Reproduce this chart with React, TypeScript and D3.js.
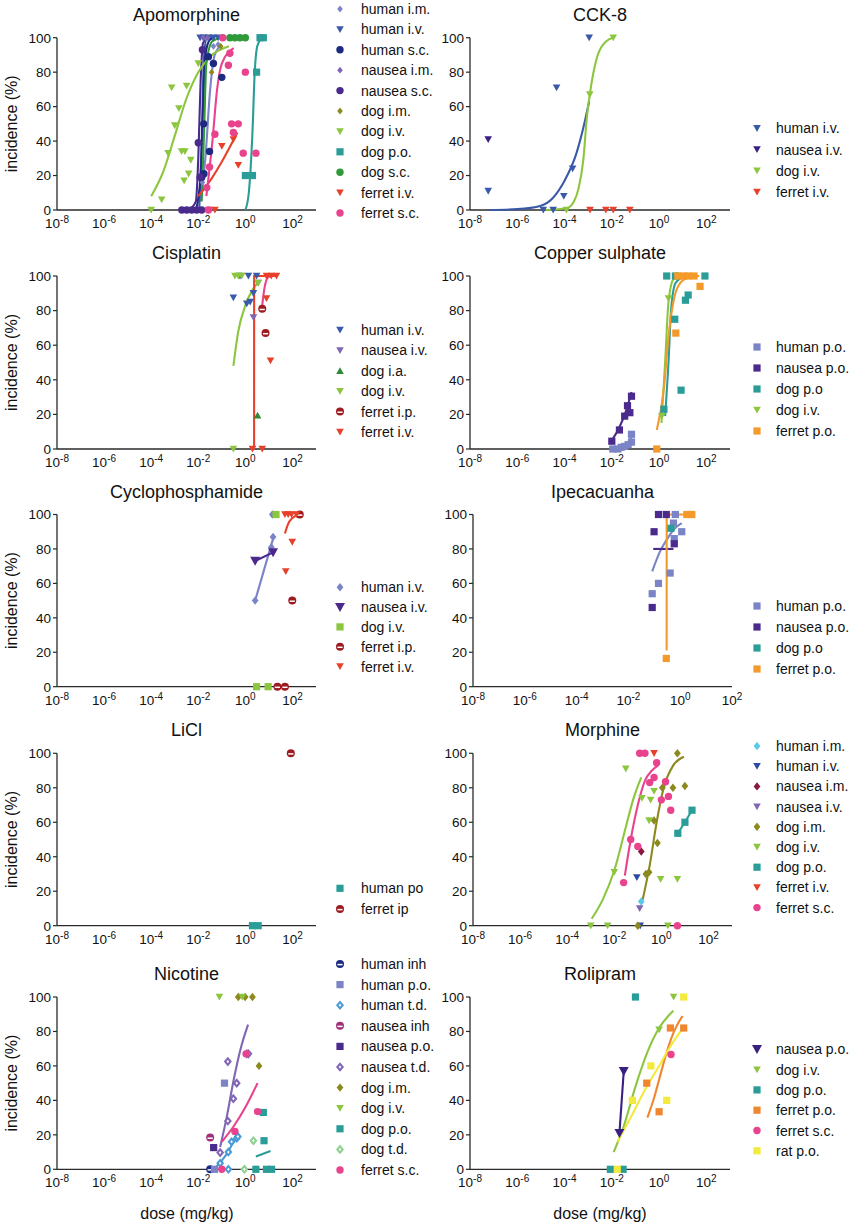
import React from 'react';
import * as d3 from 'd3';

type Pt = [number, number];

// ---------- tick labels ----------
const yTickValues = [0, 20, 40, 60, 80, 100];
const xTickExponents = [-8, -6, -4, -2, 0, 2];

// ---------- Apomorphine ----------
const apomorphineSeries = ['human i.m.', 'human i.v.', 'human s.c.', 'nausea i.m.', 'nausea s.c.', 'dog i.m.', 'dog i.v.', 'dog p.o.', 'dog s.c.', 'ferret i.v.', 'ferret s.c.'];
const apomorphinePoints: Record<string, Pt[]> = {
  'human i.m.': [[0.015, 16], [0.044, 95], [0.07, 96], [0.02, 100]],
  'human i.v.': [[0.012, 100], [0.017, 100], [0.027, 100], [0.044, 100], [0.07, 100]],
  'human s.c.': [[0.017, 50], [0.03, 34], [0.027, 89], [0.044, 85], [0.014, 19], [0.1, 77], [0.0175, 21]],
  'nausea i.m.': [[0.016, 100], [0.025, 100]],
  'nausea s.c.': [[0.002, 0], [0.0032, 0], [0.0052, 0], [0.0085, 0], [0.014, 0], [0.01, 39], [0.015, 93], [0.012, 19]],
  'dog i.m.': [[0.037, 80], [0.089, 95]],
  'dog i.v.': [[0.0001, 0], [0.00028, 6], [0.00052, 33], [0.001, 49], [0.00074, 71], [0.0015, 59], [0.00195, 34], [0.0027, 34], [0.0032, 72], [0.0048, 29], [0.0039, 21], [0.0025, 17], [0.01, 85]],
  'dog p.o.': [[1, 20], [2, 20], [3, 80], [4.2, 100], [5.8, 100]],
  'dog s.c.': [[0.22, 100], [0.36, 100], [0.59, 100], [1, 100]],
  'ferret i.v.': [[0.028, 0], [0.051, 0], [0.1, 37], [0.31, 41], [0.5, 26]],
  'ferret s.c.': [[0.027, 0], [0.023, 13], [0.03, 25], [0.051, 44], [0.11, 100], [0.19, 84], [0.22, 91], [0.26, 50], [0.5, 50], [0.31, 45], [0.81, 33], [1, 80], [2.8, 33]],
};
const apomorphineFits: Record<string, Pt[]> = {
  'human i.m.': [[0.0126, 5], [0.02, 30], [0.032, 70], [0.05, 90], [0.1, 96]],
  'human i.v.': [[0.011, 0], [0.014, 40], [0.017, 85], [0.022, 99], [0.04, 100]],
  'human s.c.': [[0.008, 0], [0.0126, 20], [0.016, 60], [0.02, 90], [0.032, 99], [0.05, 100]],
  'nausea s.c.': [[0.004, 0], [0.0079, 5], [0.01, 30], [0.0126, 75], [0.016, 97], [0.025, 100]],
  'dog i.v.': [[0.0001, 8], [0.00032, 22], [0.001, 43], [0.0032, 65], [0.01, 80], [0.032, 89], [0.2, 95]],
  'dog p.o.': [[1, 0], [1.4, 10], [2, 45], [2.5, 80], [3.2, 95], [5, 100]],
  'dog s.c.': [[0.014, 5], [0.018, 50], [0.022, 85], [0.04, 98], [0.1, 100]],
  'ferret i.v.': [[0.01, 8], [0.032, 17], [0.1, 28], [0.46, 45]],
  'ferret s.c.': [[0.022, 8], [0.04, 40], [0.063, 70], [0.1, 85], [0.32, 94]],
};

// ---------- CCK-8 ----------
const cckSeries = ['human i.v.', 'nausea i.v.', 'dog i.v.', 'ferret i.v.'];
const cckPoints: Record<string, Pt[]> = {
  'human i.v.': [[5.9e-8, 11], [1.26e-5, 0], [3.3e-5, 0], [4.6e-5, 71], [9.3e-5, 8], [2.2e-4, 24], [1.1e-3, 100]],
  'nausea i.v.': [[5.9e-8, 41]],
  'dog i.v.': [[1.2e-4, 0], [1.17e-3, 67], [1.15e-2, 100]],
  'ferret i.v.': [[1.2e-3, 0], [5.6e-3, 0], [1.15e-2, 0], [5.8e-2, 0]],
};
const cckFits: Record<string, Pt[]> = {
  'human i.v.': [[6.3e-8, 0], [1e-6, 0.5], [1e-5, 2.5], [3.2e-5, 7], [1e-4, 17], [3.2e-4, 33], [6.3e-4, 48], [1.1e-3, 63]],
  'dog i.v.': [[1.6e-5, 0], [1.2e-4, 1], [2.5e-4, 5], [4e-4, 13], [6.2e-4, 29], [9e-4, 55], [1.17e-3, 67], [2.2e-3, 87], [5.9e-3, 98], [1.15e-2, 100]],
};

// ---------- Cisplatin ----------
const cisplatinSeries = ['human i.v.', 'nausea i.v.', 'dog i.a.', 'dog i.v.', 'ferret i.p.', 'ferret i.v.'];
const cisplatinPoints: Record<string, Pt[]> = {
  'human i.v.': [[0.31, 87.5], [0.59, 100], [1.35, 100], [3, 100], [1.6, 85], [2.2, 90], [1.15, 84]],
  'nausea i.v.': [[2.2, 76], [3.5, 96]],
  'dog i.a.': [[3.3, 19.5]],
  'dog i.v.': [[0.31, 0], [0.36, 100], [0.5, 100], [0.7, 100], [3.5, 96]],
  'ferret i.p.': [[5.2, 81], [7.2, 67]],
  'ferret i.v.': [[2, 0], [5.2, 0], [7.9, 87], [11.7, 51], [7.9, 100], [12.6, 100], [21, 100]],
};
const cisplatinFits: Record<string, Pt[]> = {
  'dog i.v.': [[0.31, 48], [0.5, 68], [1, 83], [2, 92], [4.2, 97]],
  'ferret i.p.': [[5.2, 83], [6.3, 92], [8.9, 99], [12.6, 100]],
  'ferret i.v.': [[2.35, 0], [2.36, 100], [20, 100]],
};

// ---------- Copper sulphate ----------
const copperSeries = ['human p.o.', 'nausea p.o.', 'dog p.o', 'dog i.v.', 'ferret p.o.'];
const copperPoints: Record<string, Pt[]> = {
  'human p.o.': [[0.011, 0], [0.018, 0], [0.025, 1], [0.035, 1.5], [0.049, 2.5], [0.068, 4], [0.068, 8.5]],
  'nausea p.o.': [[0.01, 4.5], [0.021, 11], [0.035, 19], [0.046, 25], [0.058, 21], [0.068, 30.5]],
  'dog p.o': [[1.6, 23], [2.1, 100], [4.6, 75], [8.5, 34], [13, 86], [17, 89], [87, 100], [4.9, 100]],
  'dog i.v.': [[1.3, 19], [2.5, 87], [5.8, 100]],
  'ferret p.o.': [[0.8, 0], [5.1, 67], [11, 100], [17, 100], [30, 100], [54, 94], [6.2, 100]],
};
const copperFits: Record<string, Pt[]> = {
  'human p.o.': [[0.01, 0], [0.032, 1], [0.068, 7]],
  'nausea p.o.': [[0.01, 5], [0.02, 12], [0.04, 22], [0.068, 33]],
  'dog p.o': [[1.8, 19], [2.5, 50], [3.2, 80], [5, 96], [12.6, 100]],
  'dog i.v.': [[1.26, 15], [1.8, 50], [2.5, 85], [4, 98], [7.9, 100]],
  'ferret p.o.': [[0.8, 11], [1.6, 35], [2.5, 65], [4, 85], [7.9, 96], [20, 99.5], [50, 100]],
};

// ---------- Cyclophosphamide ----------
const cycloSeries = ['human i.v.', 'nausea i.v.', 'dog i.v.', 'ferret i.p.', 'ferret i.v.'];
const cycloPoints: Record<string, Pt[]> = {
  'human i.v.': [[2.6, 50], [15, 87], [12.6, 81], [14, 100]],
  'nausea i.v.': [[2.6, 73], [15, 78]],
  'dog i.v.': [[3, 0], [9.3, 0], [20, 100]],
  'ferret i.p.': [[23, 0], [48, 0], [98, 50], [204, 100]],
  'ferret i.v.': [[52, 67], [98, 84], [48, 100], [66, 100], [91, 100], [148, 100]],
};
const cycloFits: Record<string, Pt[]> = {
  'human i.v.': [[2.6, 50], [15.8, 87]],
  'nausea i.v.': [[2.6, 73], [15, 78]],
  'ferret i.v.': [[48, 89], [63, 94], [100, 98], [200, 100]],
};

// ---------- Ipecacuanha ----------
const ipecSeries = ['human p.o.', 'nausea p.o.', 'dog p.o', 'ferret p.o.'];
const ipecPoints: Record<string, Pt[]> = {
  'human p.o.': [[0.083, 54], [0.145, 60], [0.41, 66], [0.55, 95], [0.59, 86], [1.15, 90], [0.65, 100]],
  'nausea p.o.': [[0.083, 46], [0.098, 90], [0.145, 100], [0.29, 100], [0.59, 83]],
  'dog p.o': [[0.44, 92]],
  'ferret p.o.': [[0.29, 16.4], [1.8, 100], [2.8, 100]],
};
const ipecFits: Record<string, Pt[]> = {
  'human p.o.': [[0.083, 67], [0.16, 78], [0.32, 86], [0.63, 92], [1.15, 95]],
  'nausea p.o.': [[0.091, 80], [0.55, 80]],
  'ferret p.o.': [[0.3, 21], [0.301, 99], [0.32, 100], [2.8, 100]],
};

// ---------- LiCl ----------
const liclSeries = ['human po', 'ferret ip'];
const liclPoints: Record<string, Pt[]> = {
  'human po': [[2, 0], [3.5, 0]],
  'ferret ip': [[85, 100]],
};
const liclFits: Record<string, Pt[]> = {};

// ---------- Morphine ----------
const morphineSeries = ['human i.m.', 'human i.v.', 'nausea i.m.', 'nausea i.v.', 'dog i.m.', 'dog i.v.', 'dog p.o.', 'ferret i.v.', 'ferret s.c.'];
const morphinePoints: Record<string, Pt[]> = {
  'human i.m.': [[0.14, 14]],
  'human i.v.': [[0.091, 28], [0.126, 0]],
  'nausea i.m.': [[0.14, 43]],
  'nausea i.v.': [[0.12, 10]],
  'dog i.m.': [[0.1, 0], [0.22, 30], [0.3, 31], [0.49, 61], [0.68, 48], [1.1, 80], [3.1, 80], [4.8, 100], [10, 81]],
  'dog i.v.': [[0.001, 0], [0.0052, 0], [0.031, 91], [0.01, 31], [0.15, 74], [0.3, 61], [0.35, 73], [0.49, 78], [0.93, 27], [1.9, 0], [4.8, 27]],
  'dog p.o.': [[5, 53.6], [10, 60], [20, 67]],
  'ferret i.v.': [[0.49, 100]],
  'ferret s.c.': [[0.025, 25], [0.05, 50], [0.1, 46], [0.12, 100], [0.2, 100], [0.32, 83], [0.49, 86], [0.63, 94.5], [1, 73], [1.5, 83.5], [2, 75], [2.5, 67], [4.8, 0]],
};
const morphineFits: Record<string, Pt[]> = {
  'dog i.m.': [[0.16, 15], [0.32, 35], [0.63, 60], [1.26, 80], [3.2, 93], [9.1, 98]],
  'dog i.v.': [[0.0011, 4], [0.0032, 15], [0.01, 32], [0.032, 58], [0.063, 73], [0.14, 86]],
  'dog p.o.': [[5, 53.6], [10, 60], [20, 67]],
  'ferret s.c.': [[0.028, 29], [0.05, 50], [0.1, 70], [0.2, 84], [0.4, 90], [0.72, 93]],
};

// ---------- Nicotine ----------
const nicotineSeries = ['human inh', 'human p.o.', 'human t.d.', 'nausea inh', 'nausea p.o.', 'nausea t.d.', 'dog i.m.', 'dog i.v.', 'dog p.o.', 'dog t.d.', 'ferret s.c.'];
const nicotinePoints: Record<string, Pt[]> = {
  'human inh': [[0.032, 0]],
  'human p.o.': [[0.049, 0], [0.13, 50]],
  'human t.d.': [[0.085, 3.5], [0.19, 0], [0.19, 10], [0.26, 16], [0.43, 18], [0.48, 19]],
  'nausea inh': [[0.032, 18.4]],
  'nausea p.o.': [[0.045, 12.6]],
  'nausea t.d.': [[0.085, 9.7], [0.18, 28], [0.18, 62.5], [0.31, 41], [0.43, 50], [1.15, 67], [1.35, 67]],
  'dog i.m.': [[0.5, 100], [0.98, 100], [2, 100], [3.8, 60]],
  'dog i.v.': [[0.079, 100], [0.74, 100]],
  'dog p.o.': [[2.8, 0], [7.9, 0], [13, 0], [5.8, 33], [6.2, 16.6]],
  'dog t.d.': [[0.91, 0], [2.2, 16.6]],
  'ferret s.c.': [[0.1, 0], [0.36, 22], [1.07, 67], [3.3, 33.5]],
};
const nicotineFits: Record<string, Pt[]> = {
  'human t.d.': [[0.045, 0], [0.1, 5], [0.2, 11], [0.46, 21]],
  'nausea t.d.': [[0.085, 13], [0.16, 30], [0.32, 52], [0.63, 70], [1.3, 84]],
  'dog p.o.': [[2.8, 7.4], [11.7, 10.6]],
  'ferret s.c.': [[0.1, 16], [0.32, 25], [1, 36], [3.3, 50]],
};

// ---------- Rolipram ----------
const rolipramSeries = ['nausea p.o.', 'dog i.v.', 'dog p.o.', 'ferret p.o.', 'ferret s.c.', 'rat p.o.'];
const rolipramPoints: Record<string, Pt[]> = {
  'nausea p.o.': [[0.021, 21], [0.032, 57]],
  'dog i.v.': [[4.1, 100], [1, 81]],
  'dog p.o.': [[0.0087, 0], [0.03, 0], [0.1, 100]],
  'ferret p.o.': [[0.3, 50], [1, 33.4], [3, 82], [11, 82]],
  'ferret s.c.': [[3.2, 66.6]],
  'rat p.o.': [[0.017, 0], [0.074, 40], [0.45, 60], [2.1, 40], [11, 100]],
};
const rolipramFits: Record<string, Pt[]> = {
  'nausea p.o.': [[0.021, 21], [0.032, 57]],
  'dog i.v.': [[0.012, 10], [0.032, 25], [0.1, 48], [0.32, 68], [1, 82], [4, 92]],
  'ferret p.o.': [[0.32, 30], [0.63, 42], [1, 52], [2, 67], [4, 79], [9.8, 89]],
  'rat p.o.': [[0.017, 16], [0.063, 30], [0.25, 46], [1, 60], [3.2, 72], [11.5, 83]],
};

// ---------- styles (colour, marker) ----------
type Style = { color: string; shape: string; fit?: string; linear?: boolean };
const C = {
  slate: '#7b84c6', blue: '#3a5aa8', navy: '#1c2a82', violet: '#8066b4', purple: '#4a2a8c',
  olive: '#8c8a1e', lime: '#8cc63f', teal: '#2a9d98', green: '#2e9a3a', red: '#e8402a',
  pink: '#e8438c', maroon: '#9e1b20', dgreen: '#2f8a36', orange: '#f39a2b', sky: '#5bc8ea',
  wine: '#8a1a3c', lblue: '#4a9ad6', magenta: '#a0307a', mint: '#8ed18e', yellow: '#f2ea3c', orange2: '#f0862e',
};
const apomorphineStyle: Record<string, Style> = {
  'human i.m.': { color: C.slate, shape: 'diamondS' }, 'human i.v.': { color: C.blue, shape: 'tri' },
  'human s.c.': { color: C.navy, shape: 'circle' }, 'nausea i.m.': { color: C.violet, shape: 'diamondS' },
  'nausea s.c.': { color: C.purple, shape: 'circle' }, 'dog i.m.': { color: C.olive, shape: 'diamondS' },
  'dog i.v.': { color: C.lime, shape: 'tri' }, 'dog p.o.': { color: C.teal, shape: 'square' },
  'dog s.c.': { color: C.green, shape: 'circle' }, 'ferret i.v.': { color: C.red, shape: 'tri' },
  'ferret s.c.': { color: C.pink, shape: 'circle' },
};
const cckStyle: Record<string, Style> = {
  'human i.v.': { color: C.blue, shape: 'tri' }, 'nausea i.v.': { color: '#3a2080', shape: 'tri' },
  'dog i.v.': { color: C.lime, shape: 'tri' }, 'ferret i.v.': { color: C.red, shape: 'tri' },
};
const cisplatinStyle: Record<string, Style> = {
  'human i.v.': { color: C.blue, shape: 'tri' }, 'nausea i.v.': { color: C.violet, shape: 'tri' },
  'dog i.a.': { color: C.dgreen, shape: 'triUp' }, 'dog i.v.': { color: C.lime, shape: 'tri' },
  'ferret i.p.': { color: C.maroon, shape: 'half', fit: C.pink }, 'ferret i.v.': { color: C.red, shape: 'tri', linear: true },
};
const copperStyle: Record<string, Style> = {
  'human p.o.': { color: C.slate, shape: 'square' }, 'nausea p.o.': { color: C.purple, shape: 'square' },
  'dog p.o': { color: C.teal, shape: 'square' }, 'dog i.v.': { color: C.lime, shape: 'tri' },
  'ferret p.o.': { color: C.orange, shape: 'square' },
};
const cycloStyle: Record<string, Style> = {
  'human i.v.': { color: C.slate, shape: 'diamond', linear: true }, 'nausea i.v.': { color: C.purple, shape: 'triBig', linear: true },
  'dog i.v.': { color: C.lime, shape: 'square' }, 'ferret i.p.': { color: C.maroon, shape: 'half' },
  'ferret i.v.': { color: C.red, shape: 'tri' },
};
const ipecStyle: Record<string, Style> = {
  'human p.o.': { color: C.slate, shape: 'square' }, 'nausea p.o.': { color: C.purple, shape: 'square', linear: true },
  'dog p.o': { color: C.teal, shape: 'square' }, 'ferret p.o.': { color: C.orange, shape: 'square', linear: true },
};
const liclStyle: Record<string, Style> = {
  'human po': { color: C.teal, shape: 'square' }, 'ferret ip': { color: C.maroon, shape: 'half' },
};
const morphineStyle: Record<string, Style> = {
  'human i.m.': { color: C.sky, shape: 'diamond' }, 'human i.v.': { color: '#2b4aa8', shape: 'tri' },
  'nausea i.m.': { color: C.wine, shape: 'diamond' }, 'nausea i.v.': { color: C.violet, shape: 'tri' },
  'dog i.m.': { color: C.olive, shape: 'diamond' }, 'dog i.v.': { color: C.lime, shape: 'tri' },
  'dog p.o.': { color: C.teal, shape: 'square', linear: true }, 'ferret i.v.': { color: C.red, shape: 'tri' },
  'ferret s.c.': { color: C.pink, shape: 'circle' },
};
const nicotineStyle: Record<string, Style> = {
  'human inh': { color: C.navy, shape: 'half' }, 'human p.o.': { color: C.slate, shape: 'square' },
  'human t.d.': { color: C.lblue, shape: 'odiamond' }, 'nausea inh': { color: C.magenta, shape: 'half' },
  'nausea p.o.': { color: C.purple, shape: 'square' }, 'nausea t.d.': { color: C.violet, shape: 'odiamond' },
  'dog i.m.': { color: C.olive, shape: 'diamond' }, 'dog i.v.': { color: C.lime, shape: 'tri' },
  'dog p.o.': { color: C.teal, shape: 'square' }, 'dog t.d.': { color: C.mint, shape: 'odiamond' },
  'ferret s.c.': { color: C.pink, shape: 'circle' },
};
const rolipramStyle: Record<string, Style> = {
  'nausea p.o.': { color: '#3a2080', shape: 'triBig', linear: true }, 'dog i.v.': { color: C.lime, shape: 'tri' },
  'dog p.o.': { color: C.teal, shape: 'square' }, 'ferret p.o.': { color: C.orange2, shape: 'square' },
  'ferret s.c.': { color: C.pink, shape: 'circle' }, 'rat p.o.': { color: C.yellow, shape: 'square' },
};

// ---------- layout ----------
type Panel = {
  title: string; series: string[]; points: Record<string, Pt[]>; fits: Record<string, Pt[]>; style: Record<string, Style>;
  x0: number; x1: number; maxExp: number; yBottom: number; yTop: number; legendY: number; legendStep: number; left: boolean;
};
const L = { x0: 57, x1: 316 };
const R = { x0: 470, x1: 730 };
const panels: Panel[] = [
  { title: 'Apomorphine', series: apomorphineSeries, points: apomorphinePoints, fits: apomorphineFits, style: apomorphineStyle, ...L, maxExp: 3, yBottom: 210, yTop: 37.7, legendY: 9, legendStep: 20.4, left: true },
  { title: 'CCK-8', series: cckSeries, points: cckPoints, fits: cckFits, style: cckStyle, ...R, maxExp: 3, yBottom: 210, yTop: 37.7, legendY: 128.3, legendStep: 21.2, left: false },
  { title: 'Cisplatin', series: cisplatinSeries, points: cisplatinPoints, fits: cisplatinFits, style: cisplatinStyle, ...L, maxExp: 3, yBottom: 449, yTop: 276, legendY: 330, legendStep: 20.4, left: true },
  { title: 'Copper sulphate', series: copperSeries, points: copperPoints, fits: copperFits, style: copperStyle, ...R, maxExp: 3, yBottom: 449, yTop: 276, legendY: 347, legendStep: 21, left: false },
  { title: 'Cyclophosphamide', series: cycloSeries, points: cycloPoints, fits: cycloFits, style: cycloStyle, ...L, maxExp: 3, yBottom: 686.7, yTop: 514.5, legendY: 587.3, legendStep: 19.8, left: true },
  { title: 'Ipecacuanha', series: ipecSeries, points: ipecPoints, fits: ipecFits, style: ipecStyle, x0: 473, x1: 732, maxExp: 2, yBottom: 686.7, yTop: 514.5, legendY: 606, legendStep: 21, left: false },
  { title: 'LiCl', series: liclSeries, points: liclPoints, fits: liclFits, style: liclStyle, ...L, maxExp: 3, yBottom: 925.7, yTop: 753.3, legendY: 888.3, legendStep: 20.7, left: true },
  { title: 'Morphine', series: morphineSeries, points: morphinePoints, fits: morphineFits, style: morphineStyle, x0: 473, x1: 732, maxExp: 3, yBottom: 925.7, yTop: 753.3, legendY: 746, legendStep: 20.2, left: false },
  { title: 'Nicotine', series: nicotineSeries, points: nicotinePoints, fits: nicotineFits, style: nicotineStyle, ...L, maxExp: 3, yBottom: 1169.3, yTop: 997, legendY: 964, legendStep: 20.6, left: true },
  { title: 'Rolipram', series: rolipramSeries, points: rolipramPoints, fits: rolipramFits, style: rolipramStyle, ...R, maxExp: 3, yBottom: 1169.3, yTop: 997, legendY: 1049.3, legendStep: 20.3, left: false },
];

const FONT = '"Liberation Sans", Arial, Helvetica, sans-serif';

function Marker({ shape, x, y, color }: { shape: string; x: number; y: number; color: string }) {
  switch (shape) {
    case 'circle':
      return <circle cx={x} cy={y} r={3.7} fill={color} />;
    case 'square':
      return <rect x={x - 3.6} y={y - 3.6} width={7.2} height={7.2} fill={color} />;
    case 'diamond':
      return <path d={`M${x},${y - 4.2}L${x + 3.4},${y}L${x},${y + 4.2}L${x - 3.4},${y}Z`} fill={color} />;
    case 'diamondS':
      return <path d={`M${x},${y - 3.4}L${x + 2.8},${y}L${x},${y + 3.4}L${x - 2.8},${y}Z`} fill={color} />;
    case 'odiamond':
      return (
        <g>
          <path d={`M${x},${y - 4.8}L${x + 4},${y}L${x},${y + 4.8}L${x - 4},${y}Z`} fill={color} />
          <path d={`M${x},${y - 1.6}L${x + 1.3},${y}L${x},${y + 1.6}L${x - 1.3},${y}Z`} fill="#fff" />
        </g>
      );
    case 'tri':
      return <path d={`M${x - 3.8},${y - 3.2}L${x + 3.8},${y - 3.2}L${x},${y + 3.6}Z`} fill={color} />;
    case 'triBig':
      return <path d={`M${x - 5},${y - 4.2}L${x + 5},${y - 4.2}L${x},${y + 4.8}Z`} fill={color} />;
    case 'triUp':
      return <path d={`M${x - 3.8},${y + 3.2}L${x + 3.8},${y + 3.2}L${x},${y - 3.6}Z`} fill={color} />;
    case 'half':
      return (
        <g>
          <circle cx={x} cy={y} r={4} fill={color} />
          <line x1={x - 2.6} x2={x + 2.6} y1={y + 0.6} y2={y + 0.6} stroke="#fff" strokeWidth={1.5} />
        </g>
      );
    default:
      return <circle cx={x} cy={y} r={3.5} fill={color} />;
  }
}

function PanelView({ p }: { p: Panel }) {
  const x = d3.scaleLog().domain([1e-8, Math.pow(10, p.maxExp)]).range([p.x0, p.x1]);
  const y = d3.scaleLinear().domain([0, 100]).range([p.yBottom, p.yTop]);
  const cx = (p.x0 + p.x1) / 2;
  const legendMarkX = p.left ? 340 : 757;
  const legendTextX = p.left ? 361 : 776;
  const exps = xTickExponents.filter((e) => e <= p.maxExp);
  return (
    <g>
      <text x={cx} y={p.yTop - 17} textAnchor="middle" fontSize={18} fontFamily={FONT} fill="#111">{p.title}</text>
      {/* axes */}
      <line x1={p.x0} x2={p.x0} y1={p.yBottom} y2={p.yTop} stroke="#2a2a2a" strokeWidth={1.3} />
      <line x1={p.x0} x2={p.x1} y1={p.yBottom} y2={p.yBottom} stroke="#2a2a2a" strokeWidth={1.3} />
      {yTickValues.map((v) => (
        <g key={'y' + v}>
          <line x1={p.x0 - 4} x2={p.x0} y1={y(v)} y2={y(v)} stroke="#2a2a2a" strokeWidth={1.2} />
          <text x={p.x0 - 6} y={y(v) + 4.8} textAnchor="end" fontSize={13.5} fontFamily={FONT} fill="#111">{v}</text>
        </g>
      ))}
      {exps.map((e) => (
        <text key={'x' + e} x={x(Math.pow(10, e))} y={p.yBottom + 18} textAnchor="middle" fontSize={13.5} fontFamily={FONT} fill="#111">
          10<tspan fontSize={10} dy={-5}>{e}</tspan>
        </text>
      ))}
      {/* fits */}
      {p.series.map((s) => {
        const f = p.fits[s];
        if (!f) return null;
        const st = p.style[s];
        const gen = d3.line<Pt>().x((d) => x(d[0])).y((d) => y(d[1])).curve(st.linear ? d3.curveLinear : d3.curveMonotoneX);
        return <path key={'f' + s} d={gen(f) || ''} fill="none" stroke={st.fit || st.color} strokeWidth={2.1} />;
      })}
      {/* points */}
      {p.series.map((s) => {
        const st = p.style[s];
        return (
          <g key={'p' + s}>
            {(p.points[s] || []).map((d, i) => (
              <Marker key={i} shape={st.shape} x={x(d[0])} y={y(d[1])} color={st.color} />
            ))}
          </g>
        );
      })}
      {/* legend */}
      {p.series.map((s, i) => {
        const st = p.style[s];
        const ly = p.legendY + i * p.legendStep;
        return (
          <g key={'l' + s}>
            <Marker shape={st.shape} x={legendMarkX} y={ly} color={st.color} />
            <text x={legendTextX} y={ly + 5} fontSize={14} fontFamily={FONT} fill="#111">{s}</text>
          </g>
        );
      })}
      {p.left && (
        <text transform={`translate(17,${(p.yBottom + p.yTop) / 2}) rotate(-90)`} textAnchor="middle" fontSize={16} fontFamily={FONT} fill="#111">incidence (%)</text>
      )}
    </g>
  );
}

export default function App() {
  return (
    <svg width={853} height={1223} style={{ position: 'absolute', left: 0, top: 0, background: '#fff' }}>
      <rect x={0} y={0} width={853} height={1223} fill="#fff" />
      {panels.map((p) => (
        <PanelView key={p.title} p={p} />
      ))}
      <text x={187} y={1219} textAnchor="middle" fontSize={16} fontFamily={FONT} fill="#111">dose (mg/kg)</text>
      <text x={600} y={1219} textAnchor="middle" fontSize={16} fontFamily={FONT} fill="#111">dose (mg/kg)</text>
    </svg>
  );
}
